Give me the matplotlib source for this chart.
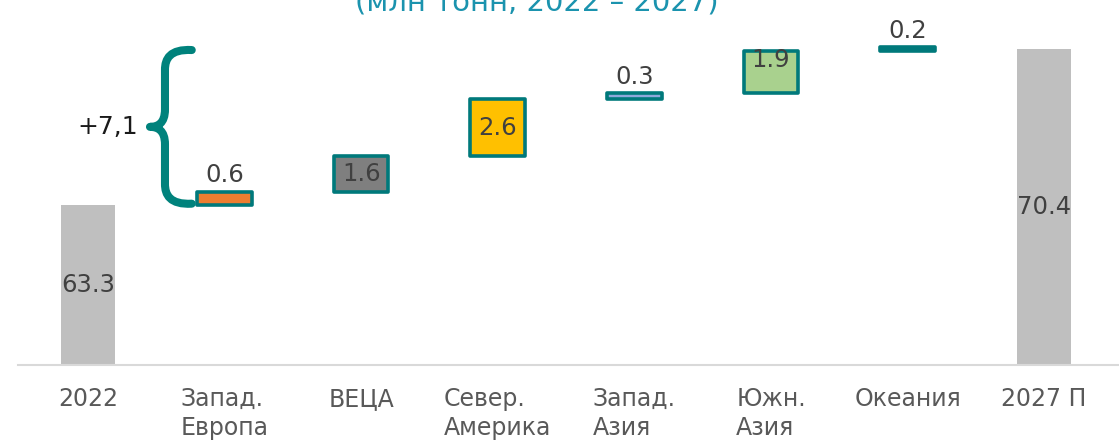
import matplotlib.pyplot as plt
from matplotlib.path import Path
from matplotlib.patches import PathPatch

categories = ['2022', 'Запад.\nЕвропа', 'ВЕЦА', 'Север.\nАмерика',
              'Запад.\nАзия', 'Южн.\nАзия', 'Океания', '2027 П']
start_total = 63.3
end_total = 70.4
changes = [0.6, 1.6, 2.6, 0.3, 1.9, 0.2]
change_colors = ['#ED7D31', '#7F7F7F', '#FFC000', '#8EA9DB', '#A9D18E', '#00797B']
label_pos = ['above', 'center', 'center', 'above', 'top', 'above']
growth_text = '+7,1'
title = '(млн тонн, 2022 – 2027)'

teal = '#00797B'
total_color = '#BFBFBF'
text_color = '#404040'

plt.rcParams['font.family'] = ['DejaVu Sans']

fig = plt.figure(figsize=(11.19, 4.41), dpi=100)
ax = fig.add_axes([18 / 1119, 76 / 441, 1 - 18 / 1119, 365 / 441])

width = 0.40
fs = 17.5
# totals
for x, v in [(0, start_total), (len(categories) - 1, end_total)]:
    ax.bar(x, v, width=width, color=total_color, zorder=2)
    ax.text(x, (56.0 + v) / 2, f'{v:.1f}', ha='center', va='center',
            fontsize=fs, color=text_color, zorder=3)

# increments
bottom = start_total
for i, (c, col, pos) in enumerate(zip(changes, change_colors, label_pos)):
    x = i + 1
    ax.bar(x, c, bottom=bottom, width=width, color=col, edgecolor=teal,
           linewidth=2.6, joinstyle='round', zorder=2)
    top = bottom + c
    if pos == 'above':
        ax.annotate(f'{c:.1f}', (x, top), xytext=(0, 3), textcoords='offset points',
                    ha='center', va='bottom', fontsize=fs, color=text_color)
    elif pos == 'top':
        ax.annotate(f'{c:.1f}', (x, top), xytext=(0, 2), textcoords='offset points',
                    ha='center', va='top', fontsize=fs, color=text_color, zorder=3)
    else:
        ax.text(x, bottom + c / 2, f'{c:.1f}', ha='center', va='center',
                fontsize=fs, color=text_color, zorder=3)
    bottom = top

# brace over the growth
y0, y1 = start_total + 0.05, end_total - 0.05
mid = (y0 + y1) / 2
xs, xt, xe = 0.564, 0.454, 0.76
verts = [
    (xe, y1), (0.60, y1 + 0.05), (xs, y1 - 0.4), (xs, y1 - 0.9),
    (xs, mid + 0.8),
    (xs, mid + 0.15), (0.51, mid), (xt, mid),
    (0.51, mid), (xs, mid - 0.15), (xs, mid - 0.8),
    (xs, y0 + 0.9),
    (xs, y0 + 0.4), (0.60, y0 - 0.05), (xe, y0),
]
codes = [Path.MOVETO, Path.CURVE4, Path.CURVE4, Path.CURVE4,
         Path.LINETO,
         Path.CURVE4, Path.CURVE4, Path.CURVE4,
         Path.CURVE4, Path.CURVE4, Path.CURVE4,
         Path.LINETO,
         Path.CURVE4, Path.CURVE4, Path.CURVE4]
ax.add_patch(PathPatch(Path(verts, codes), facecolor='none', edgecolor='#00827C',
                       linewidth=5.8, capstyle='round', joinstyle='round', zorder=4))
ax.text(0.37, mid, growth_text, ha='right', va='center', fontsize=18, color='#1a1a1a')

ax.set_xlim(-0.512, 7.548)
ax.set_ylim(56.0, 72.63)
ax.set_xticks(range(len(categories)))
ax.set_xticklabels(categories, fontsize=17, color='#595959', multialignment='left',
                   linespacing=1.25)
ax.tick_params(axis='x', length=0, pad=16)
ax.set_yticks([])
for s in ['top', 'left', 'right']:
    ax.spines[s].set_visible(False)
ax.spines['bottom'].set_color('#D9D9D9')
ax.spines['bottom'].set_linewidth(1.5)

fig.text(0.48, 1 - 10 / 441, title, ha='center', va='baseline',
         fontsize=21, color='#1B93AE')

fig.savefig('out.png', dpi=100)
